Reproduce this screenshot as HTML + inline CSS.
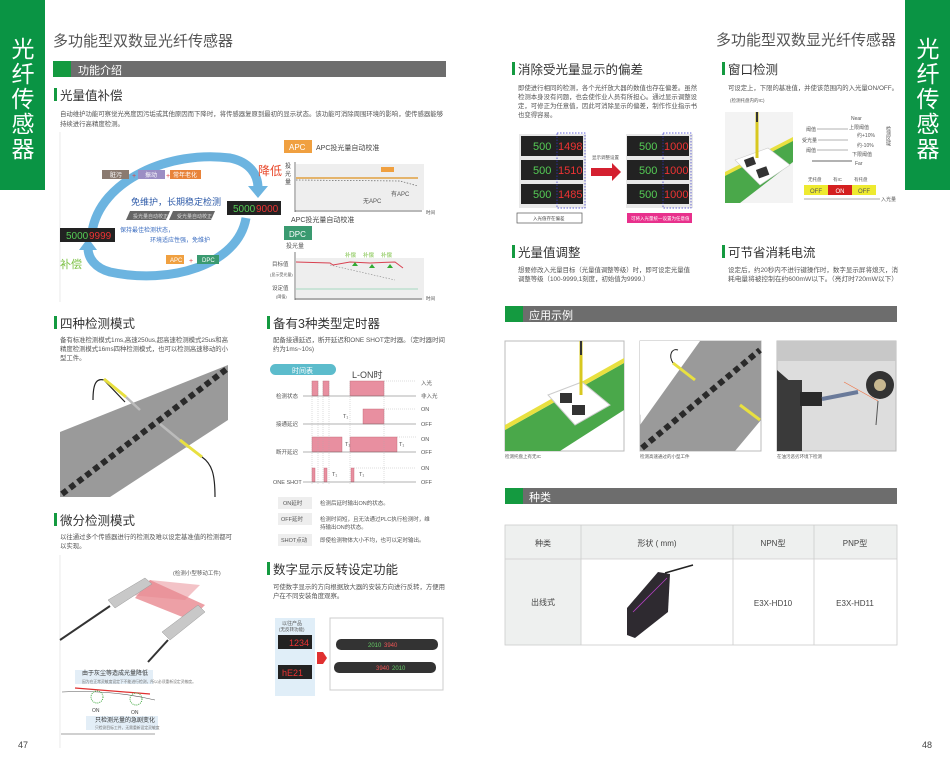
<!DOCTYPE html>
<html><head><meta charset="utf-8"><style>
html,body{margin:0;padding:0;background:#fff;width:950px;height:768px;overflow:hidden}
svg{display:block}
text{font-family:"Liberation Sans","Noto Sans CJK SC",sans-serif}
</style></head><body>
<svg width="950" height="768" viewBox="0 0 950 768" xmlns="http://www.w3.org/2000/svg">
<!-- Tabs -->
<rect x="0" y="0" width="45" height="190" fill="#0a9444"/>
<rect x="905" y="0" width="45" height="190" fill="#0a9444"/>
<g fill="#fff" font-size="23" text-anchor="middle">
<text x="23" y="57">光</text><text x="23" y="82">纤</text><text x="23" y="107">传</text><text x="23" y="132">感</text><text x="23" y="157">器</text>
<text x="928" y="57">光</text><text x="928" y="82">纤</text><text x="928" y="107">传</text><text x="928" y="132">感</text><text x="928" y="157">器</text>
</g>
<!-- titles -->
<text x="53" y="46" font-size="15" fill="#555">多功能型双数显光纤传感器</text>
<text x="896" y="45" font-size="15" fill="#555" text-anchor="end">多功能型双数显光纤传感器</text>
<!-- gray bars -->
<rect x="53" y="61" width="393" height="16" fill="#6d6d6d"/><rect x="53" y="61" width="18" height="16" fill="#149a40"/>
<text x="78" y="74" font-size="11" fill="#fff">功能介绍</text>
<rect x="505" y="306" width="392" height="16" fill="#6d6d6d"/><rect x="505" y="306" width="18" height="16" fill="#149a40"/>
<text x="529" y="319" font-size="11" fill="#fff">应用示例</text>
<rect x="505" y="488" width="392" height="16" fill="#6d6d6d"/><rect x="505" y="488" width="18" height="16" fill="#149a40"/>
<text x="529" y="501" font-size="11" fill="#fff">种类</text>

<!-- section headings -->
<g fill="#149a40">
<rect x="54" y="88" width="3" height="13"/><rect x="54" y="316" width="3" height="13"/><rect x="54" y="513" width="3" height="13"/>
<rect x="267" y="316" width="3" height="13"/><rect x="267" y="562" width="3" height="13"/>
<rect x="512" y="62" width="3" height="13"/><rect x="722" y="62" width="3" height="13"/>
<rect x="512" y="245" width="3" height="13"/><rect x="722" y="245" width="3" height="13"/>
</g>
<g font-size="12.5" fill="#333">
<text x="60" y="100">光量值补偿</text>
<text x="60" y="328">四种检测模式</text>
<text x="60" y="525">微分检测模式</text>
<text x="273" y="328">备有3种类型定时器</text>
<text x="273" y="574">数字显示反转设定功能</text>
<text x="518" y="74">消除受光量显示的偏差</text>
<text x="728" y="74">窗口检测</text>
<text x="518" y="257">光量值调整</text>
<text x="728" y="257">可节省消耗电流</text>
</g>
<!-- body text -->
<g font-size="6.4" fill="#555">
<text x="60" y="116" textLength="383" lengthAdjust="spacingAndGlyphs">自动维护功能可察觉光亮度因污垢或其他原因而下降时，将传感器复原到最初的显示状态。该功能可消除周围环境的影响，使传感器能够</text>
<text x="60" y="126">持续进行高精度检测。</text>
<text x="60" y="342" textLength="168" lengthAdjust="spacingAndGlyphs">备有标准检测模式1ms,高速250us,超高速检测模式25us和高</text>
<text x="60" y="351" textLength="168" lengthAdjust="spacingAndGlyphs">精度检测模式16ms四种检测模式，也可以检测高速移动的小</text>
<text x="60" y="360">型工件。</text>
<text x="60" y="539" textLength="172" lengthAdjust="spacingAndGlyphs">以往通过多个传感器进行的检测及难以设定基准值的检测都可</text>
<text x="60" y="548">以实现。</text>
<text x="273" y="342" textLength="172" lengthAdjust="spacingAndGlyphs">配备接通延迟，断开延迟和ONE SHOT定时器。（定时器时间</text>
<text x="273" y="351">约为1ms~10s)</text>
<text x="273" y="589" textLength="172" lengthAdjust="spacingAndGlyphs">可使数字显示的方向根据放大器的安装方向进行反转，方便用</text>
<text x="273" y="598">户在不同安装角度观察。</text>
<text x="518" y="90" textLength="179" lengthAdjust="spacingAndGlyphs">即使进行相同的检测，各个光纤放大器的数值也存在偏差。虽然</text>
<text x="518" y="99" textLength="179" lengthAdjust="spacingAndGlyphs">检测本身没有问题，也会使作业人员有所担心。通过显示调整设</text>
<text x="518" y="108" textLength="179" lengthAdjust="spacingAndGlyphs">定，可修正为任意值，因此可消除显示的偏差，制作作业指示书</text>
<text x="518" y="117">也变得容易。</text>
<text x="728" y="90" textLength="170" lengthAdjust="spacingAndGlyphs">可设定上，下限的基准值，并使该范围内的入光量ON/OFF。</text>
<text x="730" y="102" font-size="4.5">(检测托盘内的IC)</text>
<text x="518" y="272" textLength="172" lengthAdjust="spacingAndGlyphs">想要修改入光量目标（光量值调整等级）时，即可设定光量值</text>
<text x="518" y="281">调整等级（100-9999,1刻度，初始值为9999.）</text>
<text x="728" y="272" textLength="170" lengthAdjust="spacingAndGlyphs">设定后，约20秒内不进行键操作时，数字显示屏将熄灭，消</text>
<text x="728" y="281" textLength="170" lengthAdjust="spacingAndGlyphs">耗电量将被控制在约600mW以下。（亮灯时720mW以下）</text>
</g>

<!-- APC diagram -->
<line x1="60" y1="132" x2="60" y2="302" stroke="#ddd" stroke-width="0.6"/>
<path d="M92 232 C100 180 170 150 230 158 C250 162 258 175 258 188" fill="none" stroke="#6cb4e0" stroke-width="9"/>
<polygon points="248,186 268,186 258,198" fill="#6cb4e0"/>
<path d="M246 218 C238 265 170 285 110 272 C95 268 88 258 88 248" fill="none" stroke="#6cb4e0" stroke-width="9"/>
<polygon points="79,250 97,250 88,238" fill="#6cb4e0"/>
<rect x="102" y="170" width="27" height="9" fill="#8a7a70"/><text x="110" y="177" font-size="6" fill="#fff">脏污</text>
<text x="132" y="178" font-size="7" fill="#e04040">+</text>
<rect x="138" y="170" width="27" height="9" fill="#9b8ec4"/><text x="145" y="177" font-size="6" fill="#fff">振动</text>
<text x="166" y="178" font-size="7" fill="#e04040">+</text>
<rect x="170" y="170" width="31" height="9" fill="#e8833a"/><text x="173" y="177" font-size="6" fill="#fff">常年老化</text>
<text x="258" y="175" font-size="12" fill="#e8472a">降低</text>
<text x="60" y="268" font-size="11" fill="#7bc043">补偿</text>
<text x="131" y="205" font-size="9" fill="#2d5aa8">免维护，长期稳定检测</text>
<polygon points="130,211 170,211 166,220 126,220" fill="#666"/><polygon points="173,211 215,211 211,220 169,220" fill="#666"/>
<text x="133" y="218" font-size="5" fill="#ddd">投光量自动校正</text><text x="177" y="218" font-size="5" fill="#ddd">受光量自动校正</text>
<text x="120" y="232" font-size="6" fill="#3a6cc0">保持最佳检测状态，</text>
<text x="150" y="242" font-size="6" fill="#3a6cc0">环境适应性强，免维护</text>
<rect x="60" y="228" width="55" height="14" fill="#222"/><text x="66" y="239" font-size="10" fill="#5c5">5000</text><text x="89" y="239" font-size="10" fill="#e33">9999</text>
<rect x="227" y="201" width="54" height="14" fill="#222"/><text x="233" y="212" font-size="10" fill="#5c5">5000</text><text x="256" y="212" font-size="10" fill="#e33">9000</text>
<rect x="166" y="255" width="18" height="9" fill="#f0a040"/><text x="170" y="262" font-size="6" fill="#fff">APC</text>
<text x="189" y="263" font-size="7" fill="#e04040">+</text>
<rect x="197" y="255" width="22" height="9" fill="#3a9a70"/><text x="202" y="262" font-size="6" fill="#fff">DPC</text>
<!-- APC chart -->
<rect x="284" y="140" width="28" height="13" fill="#f0a040"/><text x="289" y="150" font-size="8" fill="#fff">APC</text>
<text x="316" y="150" font-size="7" fill="#444">APC投光量自动校准</text>
<text x="285" y="168" font-size="6" fill="#444">投</text><text x="285" y="176" font-size="6" fill="#444">光</text><text x="285" y="184" font-size="6" fill="#444">量</text>
<rect x="296" y="164" width="128" height="46" fill="#eee"/>
<line x1="295" y1="162" x2="295" y2="212" stroke="#444" stroke-width="0.7"/><line x1="295" y1="211" x2="422" y2="211" stroke="#444" stroke-width="0.7"/>
<line x1="296" y1="178" x2="418" y2="178" stroke="#e0a040" stroke-width="1.5"/>
<path d="M296 180 L400 181 L418 186" fill="none" stroke="#666" stroke-dasharray="1.5 1.5" stroke-width="0.7"/>
<rect x="381" y="167" width="13" height="5" fill="#f0a040"/>
<text x="363" y="203" font-size="6" fill="#555">无APC</text><text x="391" y="196" font-size="6" fill="#555">有APC</text>
<text x="426" y="214" font-size="4.5" fill="#444">时间</text>
<text x="291" y="222" font-size="7" fill="#444">APC投光量自动校准</text>
<rect x="284" y="226" width="28" height="14" fill="#3a9a70"/><text x="289" y="237" font-size="8" fill="#fff">DPC</text>
<text x="286" y="248" font-size="6" fill="#555">投光量</text>
<rect x="296" y="258" width="128" height="42" fill="#eee"/>
<line x1="295" y1="252" x2="295" y2="300" stroke="#444" stroke-width="0.7"/><line x1="295" y1="299" x2="422" y2="299" stroke="#444" stroke-width="0.7"/>
<path d="M296 262 L330 263 L333 265 L350 262 L370 263 L395 262 L403 268" fill="none" stroke="#d84050" stroke-width="1"/>
<path d="M330 265 L395 280" fill="none" stroke="#888" stroke-dasharray="1.5 1.5" stroke-width="0.6"/>
<line x1="296" y1="289" x2="418" y2="289" stroke="#8cd0b0" stroke-width="0.8"/>
<g fill="#3a3"><polygon points="352,266 355,262 358,266"/><polygon points="369,268 372,264 375,268"/><polygon points="387,268 390,264 393,268"/></g>
<g font-size="5.5" fill="#7bc043"><text x="345" y="257">补偿</text><text x="363" y="257">补偿</text><text x="381" y="257">补偿</text></g>
<g font-size="5.5" fill="#555"><text x="272" y="266">目标值</text><text x="270" y="276" font-size="4">(显示受光量)</text><text x="272" y="290">设定值</text><text x="276" y="298" font-size="4">(阈值)</text></g>
<text x="426" y="300" font-size="4.5" fill="#444">时间</text>

<!-- four modes image -->
<polygon points="60,432 228,365 228,420 110,497 60,497" fill="#9a9a9a"/>
<line x1="62" y1="494" x2="228" y2="368" stroke="#2a2a2a" stroke-width="6" stroke-dasharray="6 4"/>
<path d="M93 400 C93 384 96 378 104 380 L125 402" fill="none" stroke="#222" stroke-width="1.2"/>
<line x1="104" y1="379" x2="126" y2="397" stroke="#e8e040" stroke-width="3"/>
<line x1="126" y1="397" x2="140" y2="410" stroke="#bbb" stroke-width="2.5"/>
<line x1="160" y1="424" x2="188" y2="447" stroke="#bbb" stroke-width="2.5"/>
<line x1="180" y1="440" x2="202" y2="457" stroke="#e8e040" stroke-width="3"/>
<path d="M202 457 C212 464 215 474 215 497" fill="none" stroke="#222" stroke-width="1.2"/>

<!-- timing chart -->
<rect x="270" y="364" width="66" height="11" rx="5.5" fill="#5cbccc"/><text x="292" y="373" font-size="7" fill="#fff">时间表</text>
<text x="352" y="378" font-size="9" fill="#444">L-ON时</text>
<g fill="#e88fa0" stroke="#c06070" stroke-width="0.4">
<rect x="312" y="381" width="6" height="15"/><rect x="323" y="381" width="6" height="15"/><rect x="350" y="381" width="34" height="15"/>
<rect x="363" y="409" width="21" height="15"/>
<rect x="312" y="437" width="30" height="15"/><rect x="350" y="437" width="47" height="15"/>
<rect x="312" y="468" width="3" height="14"/><rect x="324" y="468" width="3" height="14"/><rect x="351" y="468" width="3" height="14"/>
</g>
<g stroke="#666" stroke-width="0.6"><line x1="303" y1="396" x2="416" y2="396"/><line x1="303" y1="424" x2="416" y2="424"/><line x1="303" y1="452" x2="416" y2="452"/><line x1="303" y1="482" x2="416" y2="482"/></g>
<g stroke="#aaa" stroke-width="0.4" stroke-dasharray="1 1"><line x1="312" y1="381" x2="312" y2="485"/><line x1="318" y1="381" x2="318" y2="485"/><line x1="323" y1="381" x2="323" y2="485"/><line x1="329" y1="381" x2="329" y2="485"/><line x1="350" y1="381" x2="350" y2="485"/><line x1="384" y1="381" x2="384" y2="485"/><line x1="384" y1="381" x2="416" y2="381"/><line x1="384" y1="409" x2="416" y2="409"/><line x1="397" y1="437" x2="416" y2="437"/><line x1="354" y1="468" x2="416" y2="468"/></g>
<g font-size="5.5" fill="#555"><text x="276" y="398">检测状态</text><text x="276" y="426">接通延迟</text><text x="276" y="454">断开延迟</text><text x="273" y="484">ONE SHOT</text>
<text x="421" y="385">入光</text><text x="421" y="398">非入光</text><text x="421" y="411">ON</text><text x="421" y="426">OFF</text><text x="421" y="441">ON</text><text x="421" y="454">OFF</text><text x="421" y="470">ON</text><text x="421" y="484">OFF</text>
<text x="343" y="418">T₁</text><text x="345" y="446">T₁</text><text x="399" y="446">T₁</text><text x="332" y="476">T₁</text><text x="359" y="476">T₁</text></g>
<g fill="#eee"><rect x="278" y="497" width="34" height="12"/><rect x="278" y="513" width="34" height="12"/><rect x="278" y="534" width="34" height="12"/></g>
<g font-size="5.5" fill="#555"><text x="283" y="505">ON延时</text><text x="281" y="521">OFF延时</text><text x="281" y="542">SHOT点动</text>
<text x="320" y="505">检测后延时输出ON的状态。</text><text x="320" y="521">检测时间短，且无法通过PLC执行检测时，维</text><text x="320" y="529">持输出ON的状态。</text><text x="320" y="542">即使检测物体大小不均，也可以定时输出。</text></g>

<!-- differential image -->
<line x1="60" y1="555" x2="60" y2="748" stroke="#ddd" stroke-width="0.6"/>
<text x="173" y="575" font-size="5.5" fill="#555">(检测小型移动工件)</text>
<polygon points="135,598 150,580 205,605 190,620" fill="#e88890" opacity="0.8"/>
<polygon points="150,580 200,585 185,600 130,595" fill="#e88890" opacity="0.5"/>
<polygon points="108,600 145,578 152,584 115,608" fill="#c8c8c8" stroke="#999" stroke-width="0.5"/>
<polygon points="162,632 198,605 205,612 170,640" fill="#c8c8c8" stroke="#999" stroke-width="0.5"/>
<line x1="110" y1="606" x2="60" y2="640" stroke="#333" stroke-width="2"/>
<line x1="168" y1="640" x2="148" y2="662" stroke="#333" stroke-width="2"/>
<rect x="75" y="670" width="78" height="14" fill="#e3eef7"/>
<text x="82" y="675" font-size="6" fill="#333">由于灰尘等造成光量降低</text>
<text x="82" y="683" font-size="3.8" fill="#777">因为在正常灵敏度设定下不能进行检测，所以必须重新设定灵敏度。</text>
<path d="M75 688 L150 694" stroke="#e03030" stroke-width="1.2" fill="none"/>
<path d="M62 692 C100 690 130 694 155 700" stroke="#555" stroke-width="0.6" fill="none"/>
<circle cx="97" cy="697" r="6" fill="none" stroke="#4a4" stroke-dasharray="1 1"/><circle cx="136" cy="699" r="6" fill="none" stroke="#4a4" stroke-dasharray="1 1"/>
<text x="92" y="712" font-size="5" fill="#444">ON</text><text x="131" y="714" font-size="5" fill="#444">ON</text>
<rect x="86" y="716" width="72" height="14" fill="#e3eef7"/>
<text x="95" y="722" font-size="6" fill="#333">只检测光量的急剧变化</text>
<text x="95" y="729" font-size="3.8" fill="#777">只检测目标工件，无需重新设定灵敏度</text>
<line x1="61" y1="734" x2="155" y2="734" stroke="#444" stroke-width="0.6"/>

<!-- digital flip image -->
<rect x="275" y="618" width="40" height="78" fill="#e0eef8"/>
<text x="282" y="625" font-size="5" fill="#555">以往产品</text><text x="279" y="631" font-size="4.5" fill="#555">(无反转功能)</text>
<rect x="278" y="635" width="34" height="14" fill="#222"/><text x="289" y="646" font-size="9" fill="#e33">1234</text>
<rect x="278" y="665" width="34" height="14" fill="#222"/><text x="282" y="676" font-size="9" fill="#e33">hE21</text>
<polygon points="317,652 323,652 327,658 323,664 317,664" fill="#e03030"/>
<rect x="330" y="618" width="113" height="72" fill="#fff" stroke="#ccc"/>
<rect x="336" y="639" width="102" height="11" rx="5" fill="#333"/><text x="368" y="647" font-size="6" fill="#6c6">2010</text><text x="384" y="647" font-size="6" fill="#e55">3940</text>
<rect x="334" y="662" width="102" height="11" rx="5" fill="#333"/><text x="376" y="670" font-size="6" fill="#e55">3940</text><text x="392" y="670" font-size="6" fill="#6c6">2010</text>

<!-- right displays -->
<g>
<rect x="519" y="134" width="67" height="74" fill="#e8e8e8"/>
<rect x="521" y="136" width="62" height="20" fill="#222"/><rect x="521" y="160" width="62" height="20" fill="#222"/><rect x="521" y="184" width="62" height="20" fill="#222"/>
<g font-size="11" fill="#5c5"><text x="533" y="150">500</text><text x="533" y="174">500</text><text x="533" y="198">500</text></g>
<g font-size="11" fill="#e33"><text x="558" y="150">1498</text><text x="558" y="174">1510</text><text x="558" y="198">1485</text></g>
<rect x="557" y="133" width="28" height="75" fill="none" stroke="#33c" stroke-dasharray="1.5 1.5" stroke-width="0.7"/>
<rect x="626" y="134" width="67" height="74" fill="#e8e8e8"/>
<rect x="627" y="136" width="62" height="20" fill="#222"/><rect x="627" y="160" width="62" height="20" fill="#222"/><rect x="627" y="184" width="62" height="20" fill="#222"/>
<g font-size="11" fill="#5c5"><text x="639" y="150">500</text><text x="639" y="174">500</text><text x="639" y="198">500</text></g>
<g font-size="11" fill="#e33"><text x="664" y="150">1000</text><text x="664" y="174">1000</text><text x="664" y="198">1000</text></g>
<rect x="663" y="133" width="28" height="75" fill="none" stroke="#33c" stroke-dasharray="1.5 1.5" stroke-width="0.7"/>
<polygon points="591,168 612,168 612,163 621,172 612,181 612,176 591,176" fill="#d42030"/>
<text x="592" y="159" font-size="4.5" fill="#555">显示调整设置</text>
<rect x="517" y="213" width="65" height="10" fill="#fff" stroke="#555" stroke-width="0.7"/><text x="533" y="220" font-size="4.5" fill="#444">入光值存在偏差</text>
<rect x="627" y="213" width="65" height="10" fill="#e8308c"/><text x="631" y="220" font-size="4.5" fill="#fff">可将入光量统一设置为任意值</text>
</g>

<!-- window detection -->
<rect x="725" y="112" width="68" height="91" fill="#f3f3f3"/>
<polygon points="725,175 793,140 793,162 740,203 725,203" fill="#4aa84a"/>
<polygon points="725,172 793,137 793,141 725,176" fill="#e8e040"/>
<polygon points="735,160 768,148 790,165 760,185" fill="#fff" stroke="#ccc" stroke-width="0.6"/>
<rect x="745" y="158" width="10" height="8" fill="#333" transform="rotate(-20 750 162)"/><rect x="757" y="168" width="11" height="9" fill="#333" transform="rotate(-20 762 172)"/>
<line x1="757" y1="112" x2="757" y2="158" stroke="#d8c820" stroke-width="3"/><line x1="757" y1="112" x2="757" y2="122" stroke="#333" stroke-width="2"/>
<g font-size="5" fill="#555"><text x="806" y="131">阈值</text><text x="802" y="142">受光量</text><text x="806" y="152">阈值</text>
<text x="851" y="120">Near</text><text x="849" y="129">上限阈值</text><text x="857" y="137">约+10%</text><text x="857" y="147">约-10%</text><text x="852" y="156">下限阈值</text><text x="855" y="165">Far</text></g>
<g stroke="#666" stroke-width="0.5"><line x1="817" y1="129" x2="848" y2="129"/><line x1="818" y1="140" x2="848" y2="140"/><line x1="817" y1="150" x2="848" y2="150"/><line x1="812" y1="161" x2="852" y2="161" stroke-width="1"/></g>
<text x="888" y="126" font-size="5" fill="#555" writing-mode="tb">检测区域</text>
<g font-size="4.5" fill="#555"><text x="808" y="181">无托盘</text><text x="833" y="181">有IC</text><text x="854" y="181">有托盘</text></g>
<rect x="804" y="185" width="24" height="10" fill="#eeea30"/><rect x="828" y="185" width="24" height="10" fill="#d42020"/><rect x="852" y="185" width="24" height="10" fill="#eeea30"/>
<g font-size="6" text-anchor="middle"><text x="816" y="193" fill="#555">OFF</text><text x="840" y="193" fill="#fff">ON</text><text x="864" y="193" fill="#555">OFF</text></g>
<line x1="804" y1="199" x2="880" y2="199" stroke="#555" stroke-width="0.6"/><text x="881" y="201" font-size="5" fill="#555">入光量</text>

<!-- application photos -->
<rect x="505" y="341" width="119" height="110" fill="#fff" stroke="#bbb"/>
<polygon points="505,430 624,363 624,410 560,451 505,451" fill="#4aa84a"/>
<polygon points="505,425 624,358 624,363 505,430" fill="#e8e040"/>
<polygon points="548,395 582,382 610,405 575,425" fill="#fff" stroke="#ccc"/>
<rect x="560" y="393" width="12" height="10" fill="#333"/><rect x="572" y="405" width="13" height="10" fill="#333"/>
<line x1="581" y1="341" x2="581" y2="395" stroke="#d8c820" stroke-width="3"/><line x1="581" y1="341" x2="581" y2="355" stroke="#333" stroke-width="2"/>
<rect x="640" y="341" width="121" height="110" fill="#fff" stroke="#bbb"/>
<polygon points="640,425 700,341 761,341 761,420 735,451 640,451" fill="#9a9a9a"/>
<polygon points="640,415 700,341 640,341" fill="#fff"/>
<line x1="642" y1="448" x2="760" y2="350" stroke="#2a2a2a" stroke-width="6" stroke-dasharray="6 4"/>
<line x1="673" y1="363" x2="695" y2="380" stroke="#e8e040" stroke-width="3"/><path d="M673 363 C668 355 672 348 678 350" stroke="#222" fill="none"/>
<line x1="740" y1="405" x2="760" y2="420" stroke="#e8e040" stroke-width="3"/>
<rect x="777" y="341" width="119" height="110" fill="#ddd" stroke="#bbb"/>
<rect x="777" y="341" width="119" height="20" fill="#c8c8c8"/>
<polygon points="777,370 800,390 800,451 777,451" fill="#333"/><rect x="777" y="380" width="25" height="71" fill="#3a3a3a"/>
<rect x="800" y="392" width="22" height="14" fill="#2a2a2a"/>
<line x1="822" y1="399" x2="858" y2="392" stroke="#6a7a9a" stroke-width="4"/>
<circle cx="880" cy="385" r="14" fill="#333"/><circle cx="880" cy="385" r="6" fill="#c8b890"/>
<line x1="844" y1="382" x2="878" y2="401" stroke="#f07040" stroke-width="0.6"/>
<line x1="878" y1="401" x2="876" y2="425" stroke="#555" stroke-width="1"/>
<g font-size="4.5" fill="#555"><text x="505" y="458">检测托盘上有无IC</text><text x="640" y="458">检测高速通过的小型工件</text><text x="777" y="458">在油污恶劣环境下检测</text></g>

<!-- table -->
<rect x="505" y="525" width="392" height="120" fill="#fff"/>
<rect x="505" y="525" width="392" height="34" fill="#eef0ef"/>
<rect x="505" y="559" width="76" height="86" fill="#eef0ef"/>
<g stroke="#ccc" stroke-width="0.8" fill="none"><rect x="505" y="525" width="392" height="120"/><line x1="505" y1="559" x2="897" y2="559"/><line x1="581" y1="525" x2="581" y2="645"/><line x1="733" y1="525" x2="733" y2="645"/><line x1="814" y1="525" x2="814" y2="645"/></g>
<g font-size="8" fill="#444" text-anchor="middle"><text x="543" y="546">种类</text><text x="657" y="546">形状 ( mm)</text><text x="773" y="546">NPN型</text><text x="855" y="546">PNP型</text>
<text x="543" y="605">出线式</text><text x="773" y="606">E3X-HD10</text><text x="855" y="606">E3X-HD11</text></g>
<polygon points="627,608 658,572 670,574 668,612 635,638 627,635" fill="#2e2a30"/>
<line x1="633" y1="612" x2="667" y2="578" stroke="#b040c0" stroke-width="0.8"/>
<line x1="665" y1="573" x2="693" y2="565" stroke="#222" stroke-width="1.5"/>

<!-- page numbers -->
<text x="18" y="748" font-size="9" fill="#444">47</text>
<text x="922" y="748" font-size="9" fill="#444">48</text>
</svg>
</body></html>
